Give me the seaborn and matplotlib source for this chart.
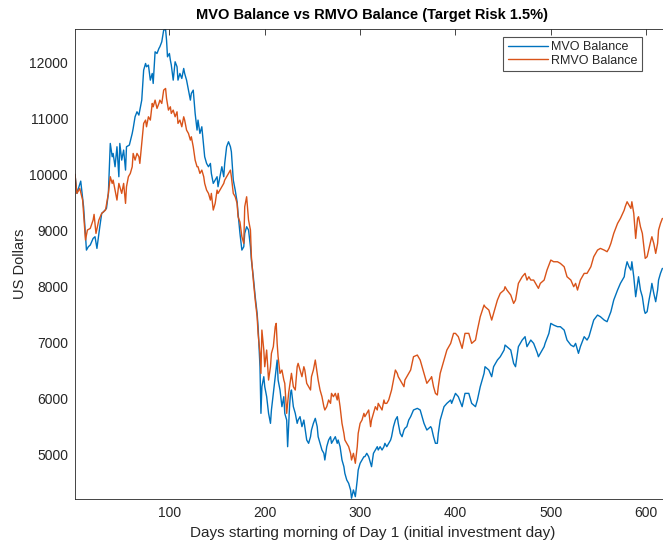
import pandas as pd
import matplotlib
matplotlib.use("Agg")
import matplotlib.pyplot as plt
import seaborn as sns

# =========================================
# DATA
# =========================================
mvo_days = [1, 3, 7, 10, 13, 15, 17, 20, 22, 24, 27, 29, 31, 34, 36, 38, 40, 41, 43, 45,
            47, 48, 50, 52, 54, 55, 58, 61, 62, 64, 66, 68, 69, 71, 73, 75, 76, 78, 80, 82,
            83, 85, 87, 89, 90, 92, 94, 96, 97, 98, 100, 101, 102, 104, 106, 108, 109, 111, 113, 115,
            116, 118, 120, 122, 123, 125, 127, 129, 130, 132, 134, 136, 137, 139, 141, 143, 144, 146, 148, 150,
            151, 153, 155, 157, 158, 160, 162, 164, 165, 167, 169, 171, 172, 174, 176, 178, 179, 181, 183, 185,
            186, 188, 190, 192, 193, 195, 196, 197, 199, 200, 202, 204, 206, 207, 209, 211, 213, 214, 216, 218,
            220, 221, 223, 224, 226, 227, 228, 230, 232, 234, 235, 237, 239, 241, 242, 244, 246, 248, 249, 251,
            253, 255, 256, 258, 260, 262, 263, 265, 267, 269, 270, 272, 274, 276, 277, 279, 281, 283, 284, 286,
            288, 290, 291, 293, 295, 297, 298, 300, 302, 304, 305, 307, 309, 311, 312, 314, 316, 318, 319, 321,
            323, 325, 326, 328, 330, 332, 333, 335, 337, 339, 340, 342, 344, 346, 347, 349, 351, 353, 356, 360,
            363, 367, 370, 374, 375, 377, 379, 381, 382, 384, 386, 388, 391, 395, 396, 400, 403, 407, 410, 414,
            417, 421, 423, 426, 430, 431, 435, 438, 440, 444, 447, 451, 452, 454, 458, 461, 463, 466, 470, 473,
            475, 477, 479, 482, 486, 487, 489, 493, 494, 498, 500, 503, 507, 510, 514, 517, 521, 524, 526, 528,
            529, 531, 535, 538, 540, 542, 545, 549, 552, 556, 559, 561, 563, 566, 570, 573, 577, 578, 580, 582,
            584, 585, 587, 589, 591, 592, 594, 596, 598, 599, 601, 603, 605, 606, 608, 610, 612, 613, 615, 617]
mvo_balance = [10000, 9661, 9880, 9423, 8651, 8711, 8741, 8859, 8889, 8681, 9067, 9305, 9334, 9394, 9661, 10551, 10314, 10373, 10136, 10492,
               9958, 10551, 10254, 10433, 10076, 10492, 10522, 10729, 10818, 11026, 11115, 11056, 11145, 11323, 11857, 11976, 11917, 11947, 11679, 11798,
               11620, 12184, 12154, 12243, 12273, 12362, 12570, 12582, 12392, 12095, 12154, 12036, 11947, 11679, 12006, 11917, 11679, 11798, 11709, 11887,
               11798, 11679, 11501, 11323, 11442, 11501, 11086, 10789, 10967, 10729, 10848, 10492, 10314, 10195, 10136, 10195, 10017, 9839, 9898, 9958,
               9780, 9958, 10136, 9958, 10195, 10492, 10581, 10492, 10403, 9898, 9720, 9512, 9305, 8948, 8651, 8711, 8948, 9067, 9008, 8711,
               8473, 8176, 7820, 7523, 7286, 6573, 5742, 6217, 6395, 6217, 6039, 5742, 5564, 5802, 6098, 6395, 6692, 6336, 6158, 5861,
               6039, 5742, 5623, 5148, 5861, 6098, 6158, 5861, 5742, 5564, 5623, 5683, 5505, 5623, 5505, 5267, 5208, 5326, 5445, 5564,
               5653, 5505, 5326, 5208, 5089, 5030, 4911, 5148, 5267, 5326, 5208, 5267, 5326, 5208, 5267, 5148, 4911, 4792, 4674, 4555,
               4495, 4377, 4230, 4377, 4258, 4555, 4733, 4852, 4911, 4970, 4970, 5030, 4970, 4852, 4792, 5030, 5089, 5148, 5089, 5148,
               5089, 5148, 5208, 5148, 5208, 5267, 5326, 5505, 5623, 5683, 5564, 5386, 5326, 5445, 5475, 5505, 5623, 5683, 5802, 5831,
               5802, 5564, 5445, 5505, 5475, 5326, 5208, 5208, 5386, 5623, 5742, 5861, 5920, 5980, 5920, 6098, 6039, 5861, 6098, 6098,
               5920, 5861, 5980, 6217, 6455, 6573, 6514, 6395, 6573, 6692, 6751, 6870, 6959, 6930, 6870, 6633, 6573, 6930, 7048, 7108,
               6930, 6989, 7048, 6989, 6811, 6751, 6811, 6930, 6989, 7167, 7345, 7315, 7286, 7286, 7226, 7048, 6959, 6930, 6989, 6870,
               6811, 6930, 7108, 7048, 7108, 7226, 7404, 7493, 7464, 7404, 7375, 7464, 7553, 7761, 7939, 8058, 8176, 8295, 8443, 8354,
               8295, 8443, 8176, 7820, 8058, 8176, 7939, 7820, 7583, 7523, 7553, 7761, 7939, 8058, 7880, 7731, 7939, 8117, 8236, 8325]

rmvo_days = [1, 3, 6, 9, 12, 14, 17, 20, 21, 23, 26, 29, 33, 36, 38, 40, 41, 43, 45, 47,
             48, 50, 52, 54, 55, 57, 59, 61, 62, 64, 66, 68, 69, 71, 73, 75, 76, 78, 80, 82,
             83, 85, 87, 89, 90, 92, 94, 96, 97, 99, 101, 102, 104, 106, 108, 109, 111, 113, 115, 116,
             118, 120, 122, 123, 125, 127, 129, 130, 132, 134, 136, 137, 139, 141, 143, 144, 146, 148, 150, 151,
             153, 155, 157, 158, 160, 162, 164, 165, 167, 169, 171, 172, 174, 176, 178, 179, 181, 183, 185, 186,
             188, 190, 192, 193, 195, 196, 197, 199, 200, 202, 204, 206, 207, 209, 211, 212, 213, 214, 216, 218,
             220, 221, 223, 225, 227, 228, 230, 232, 234, 235, 237, 239, 241, 242, 244, 246, 248, 249, 251, 253,
             255, 256, 258, 260, 262, 263, 265, 267, 269, 270, 272, 274, 276, 277, 279, 281, 283, 284, 286, 288,
             290, 291, 293, 295, 297, 298, 300, 302, 304, 305, 307, 309, 311, 312, 314, 316, 318, 319, 321, 323,
             325, 326, 328, 330, 332, 333, 335, 337, 339, 340, 342, 344, 346, 347, 349, 351, 353, 356, 360, 363,
             367, 370, 374, 375, 377, 379, 381, 382, 384, 388, 391, 395, 398, 400, 403, 407, 410, 414, 417, 421,
             423, 426, 430, 431, 435, 438, 440, 444, 447, 451, 452, 454, 458, 461, 463, 466, 470, 473, 475, 477,
             479, 482, 486, 487, 489, 493, 496, 500, 503, 507, 510, 514, 517, 521, 524, 526, 528, 529, 531, 535,
             538, 540, 542, 545, 549, 552, 556, 559, 561, 563, 566, 570, 573, 577, 578, 580, 582, 584, 585, 587,
             589, 591, 592, 594, 596, 598, 599, 601, 603, 605, 606, 608, 610, 612, 613, 615, 617]
rmvo_balance = [10000, 9661, 9750, 9542, 8830, 9008, 9037, 9186, 9287, 8948, 9186, 9305, 9364, 9661, 9958, 9839, 9898, 9720, 9542, 9839,
                9780, 9661, 9839, 9483, 9780, 9958, 10017, 10136, 10373, 10254, 10373, 10314, 10195, 10551, 10908, 10967, 10848, 11026, 10967, 11264,
                11204, 11323, 11175, 11264, 11323, 11264, 11501, 11531, 11353, 11145, 11204, 11086, 11145, 11026, 11115, 10908, 10967, 10848, 11026, 10967,
                10789, 10729, 10611, 10670, 10492, 10254, 10136, 10136, 10017, 10076, 9958, 9839, 9720, 9661, 9542, 9661, 9364, 9483, 9720, 9661,
                9720, 9780, 9839, 9898, 9958, 10017, 10076, 9958, 9661, 9602, 9483, 9245, 9150, 8889, 8770, 9423, 9601, 9186, 9008, 8533,
                8117, 7761, 7464, 7167, 6811, 6454, 7226, 6870, 6573, 6870, 6336, 6573, 6811, 6930, 7286, 7345, 6989, 6751, 6454, 6514,
                6336, 6277, 5742, 6098, 6336, 6455, 6217, 6158, 6573, 6633, 6514, 6395, 6573, 6514, 6277, 6217, 6158, 6395, 6514, 6692,
                6454, 6336, 6158, 6039, 5861, 5802, 5861, 5980, 5920, 6098, 6039, 6098, 5980, 6098, 5861, 5564, 5386, 5267, 5208, 5148,
                5030, 4911, 5030, 4852, 5148, 5386, 5564, 5623, 5742, 5683, 5742, 5802, 5505, 5623, 5742, 5861, 5802, 5920, 5861, 5802,
                5980, 5920, 5920, 5980, 6098, 6158, 6336, 6514, 6454, 6395, 6336, 6277, 6217, 6336, 6395, 6454, 6514, 6751, 6781, 6692,
                6455, 6277, 6366, 6395, 6217, 6098, 6069, 6217, 6455, 6692, 6870, 6989, 7167, 7167, 7108, 6900, 7167, 7167, 6989, 7048,
                7226, 7464, 7672, 7642, 7583, 7404, 7523, 7761, 7880, 7939, 7998, 7939, 7850, 7701, 7761, 8058, 8176, 8236, 8117, 8176,
                8117, 8117, 7998, 7969, 8058, 8117, 8295, 8473, 8443, 8443, 8414, 8354, 8176, 8117, 7998, 8058, 7939, 7998, 8117, 8236,
                8236, 8295, 8354, 8532, 8651, 8681, 8651, 8622, 8681, 8770, 8948, 9126, 9215, 9364, 9423, 9512, 9453, 9393, 9512, 9304,
                8859, 9215, 9245, 9067, 8948, 8651, 8503, 8533, 8681, 8829, 8889, 8770, 8592, 8770, 9007, 9126, 9215]

series_names = ["MVO Balance", "RMVO Balance"]
series_colors = ["#0072BD", "#D95319"]
x_ticks = [100, 200, 300, 400, 500, 600]
y_ticks = [5000, 6000, 7000, 8000, 9000, 10000, 11000, 12000]

df = pd.concat([
    pd.DataFrame({"Day": mvo_days, "Balance": mvo_balance, "Series": series_names[0]}),
    pd.DataFrame({"Day": rmvo_days, "Balance": rmvo_balance, "Series": series_names[1]}),
], ignore_index=True)

# =========================================
# STYLE
# =========================================
sns.set_theme(style="white")
plt.rcParams["font.family"] = ["Liberation Sans", "DejaVu Sans"]
dark = "#262626"

fig = plt.figure(figsize=(6.63, 5.48), dpi=100)
# axes runs a little past the right edge of the picture, like the reference
ax = fig.add_axes([75 / 663, 49 / 548, 595 / 663, 470 / 548])

sns.lineplot(data=df, x="Day", y="Balance", hue="Series", hue_order=series_names,
             palette=series_colors, estimator=None, sort=True, linewidth=1.0, ax=ax)

ax.set_xlim(1, 625)
ax.set_ylim(4216, 12590)
ax.set_xticks(x_ticks)
ax.set_yticks(y_ticks)

ax.tick_params(direction="in", top=True, right=True, length=4, width=0.6,
               colors=dark, labelsize=10, pad=5)
for s in ax.spines.values():
    s.set_color(dark)
    s.set_linewidth(0.6)

ax.set_title("MVO Balance vs RMVO Balance (Target Risk 1.5%)",
             fontsize=10.5, fontweight="bold", color="black", pad=7)
ax.set_xlabel("Days starting morning of Day 1 (initial investment day)", fontsize=11, color=dark, labelpad=4)
ax.set_ylabel("US Dollars", fontsize=10.5, color=dark, labelpad=2)

handles, labels = ax.get_legend_handles_labels()
leg = ax.legend(handles, labels, loc="upper right", bbox_to_anchor=(642 / 663, 1 - 37 / 548),
                bbox_transform=fig.transFigure, borderaxespad=0, fontsize=9,
                frameon=True, fancybox=False, handlelength=3.2, handletextpad=0.3,
                labelspacing=0.1, borderpad=0.35)
leg.get_frame().set_edgecolor(dark)
leg.get_frame().set_linewidth(0.8)

fig.savefig("out.png", dpi=100)
